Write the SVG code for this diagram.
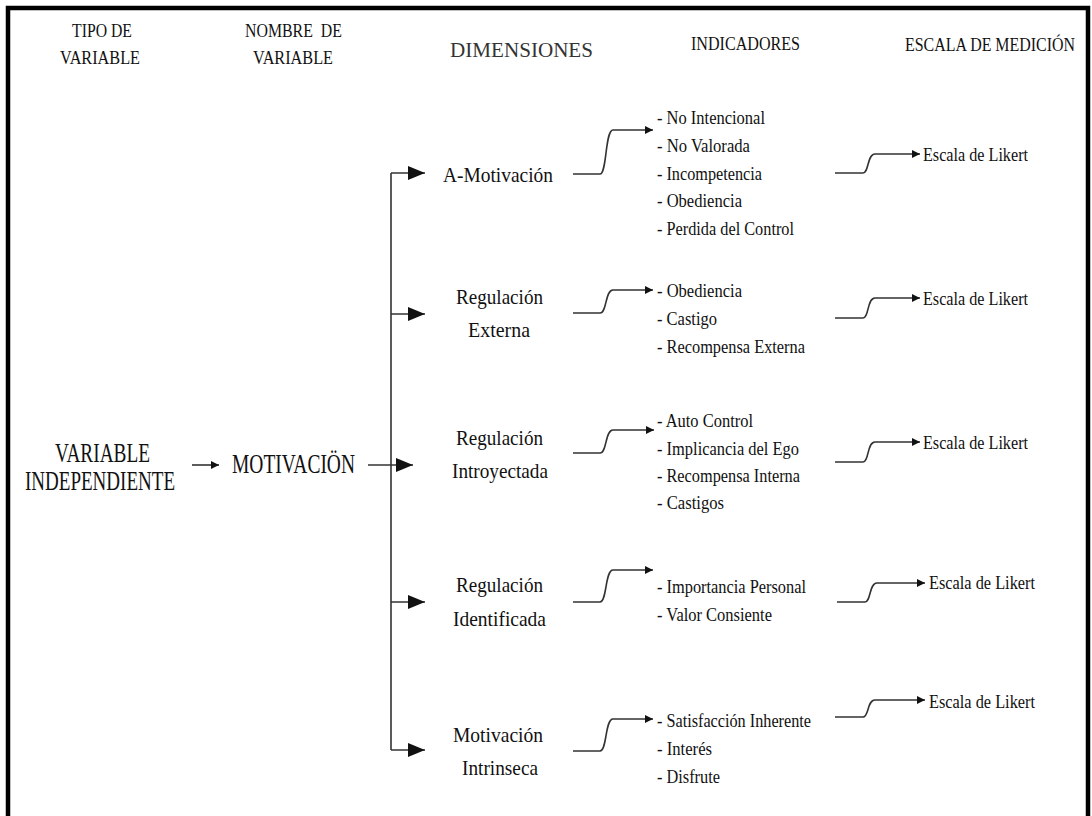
<svg xmlns="http://www.w3.org/2000/svg" width="1092" height="816" viewBox="0 0 1092 816">
<defs>
<style>
text{font-family:"Liberation Serif","DejaVu Serif",serif;fill:#111;}
.hdr{font-size:19px;}
.big{font-size:28px;}
.dim{font-size:22px;}
.ind{font-size:19px;}
.conn{fill:none;stroke:#333;stroke-width:1.6;}
</style>
<marker id="sm" markerUnits="userSpaceOnUse" markerWidth="9" markerHeight="9" refX="8" refY="4" orient="auto"><path d="M0,0 L8,4 L0,8 z" fill="#111"/></marker>
<marker id="lg" markerUnits="userSpaceOnUse" markerWidth="18" markerHeight="15" refX="17" refY="7" orient="auto"><path d="M0,0 L17,7 L0,14 z" fill="#111"/></marker>
</defs>
<rect width="1092" height="816" fill="#fff"/>
<path d="M8,816 V8 H1088 V816" fill="none" stroke="#000" stroke-width="4.5"/>

<g id="headers">
<text class="hdr" x="72" y="37" textLength="60" lengthAdjust="spacingAndGlyphs">TIPO DE</text>
<text class="hdr" x="60" y="64" textLength="80" lengthAdjust="spacingAndGlyphs">VARIABLE</text>
<text class="hdr" x="245" y="37" textLength="97" lengthAdjust="spacingAndGlyphs" xml:space="preserve">NOMBRE  DE</text>
<text class="hdr" x="253" y="64" textLength="80" lengthAdjust="spacingAndGlyphs">VARIABLE</text>
<text x="450" y="57" style="font-size:20px;fill:#333" textLength="143" lengthAdjust="spacingAndGlyphs">DIMENSIONES</text>
<text class="hdr" x="691" y="50" textLength="109" lengthAdjust="spacingAndGlyphs">INDICADORES</text>
<text class="hdr" transform="translate(905,51) scale(0.84,1)">ESCALA DE MEDICIÓN</text>
</g>

<g id="tipo">
<text class="big" x="55" y="462" textLength="95" lengthAdjust="spacingAndGlyphs">VARIABLE</text>
<text class="big" x="25" y="490" textLength="150" lengthAdjust="spacingAndGlyphs">INDEPENDIENTE</text>
</g>
<g id="nombre">
<text class="big" x="232" y="473" textLength="123" lengthAdjust="spacingAndGlyphs">MOTIVACIÖN</text>
</g>

<g id="dim-amotivacion"><text class="dim" x="443" y="182" textLength="110" lengthAdjust="spacingAndGlyphs">A-Motivación</text></g>
<g id="dim-externa">
<text class="dim" x="456" y="304" textLength="87" lengthAdjust="spacingAndGlyphs">Regulación</text>
<text class="dim" x="468" y="337" textLength="62" lengthAdjust="spacingAndGlyphs">Externa</text>
</g>
<g id="dim-introyectada">
<text class="dim" x="456" y="445" textLength="87" lengthAdjust="spacingAndGlyphs">Regulación</text>
<text class="dim" x="452" y="478" textLength="96" lengthAdjust="spacingAndGlyphs">Introyectada</text>
</g>
<g id="dim-identificada">
<text class="dim" x="456" y="592" textLength="87" lengthAdjust="spacingAndGlyphs">Regulación</text>
<text class="dim" x="453" y="626" textLength="93" lengthAdjust="spacingAndGlyphs">Identificada</text>
</g>
<g id="dim-intrinseca">
<text class="dim" x="453" y="742" textLength="90" lengthAdjust="spacingAndGlyphs">Motivación</text>
<text class="dim" x="462" y="775" textLength="76" lengthAdjust="spacingAndGlyphs">Intrinseca</text>
</g>

<g id="ind-amotivacion">
<text class="ind" x="657" y="124" textLength="108" lengthAdjust="spacingAndGlyphs">- No Intencional</text>
<text class="ind" x="657" y="152" textLength="93" lengthAdjust="spacingAndGlyphs">- No Valorada</text>
<text class="ind" x="657" y="180" textLength="105" lengthAdjust="spacingAndGlyphs">- Incompetencia</text>
<text class="ind" x="657" y="207" textLength="85" lengthAdjust="spacingAndGlyphs">- Obediencia</text>
<text class="ind" x="657" y="235" textLength="137" lengthAdjust="spacingAndGlyphs">- Perdida del Control</text>
</g>
<g id="ind-externa">
<text class="ind" x="657" y="297" textLength="85" lengthAdjust="spacingAndGlyphs">- Obediencia</text>
<text class="ind" x="657" y="325" textLength="60" lengthAdjust="spacingAndGlyphs">- Castigo</text>
<text class="ind" x="657" y="353" textLength="148" lengthAdjust="spacingAndGlyphs">- Recompensa Externa</text>
</g>
<g id="ind-introyectada">
<text class="ind" x="657" y="427" textLength="96" lengthAdjust="spacingAndGlyphs">- Auto Control</text>
<text class="ind" x="657" y="455" textLength="142" lengthAdjust="spacingAndGlyphs">- Implicancia del Ego</text>
<text class="ind" x="657" y="482" textLength="143" lengthAdjust="spacingAndGlyphs">- Recompensa Interna</text>
<text class="ind" x="657" y="509" textLength="67" lengthAdjust="spacingAndGlyphs">- Castigos</text>
</g>
<g id="ind-identificada">
<text class="ind" x="657" y="593" textLength="149" lengthAdjust="spacingAndGlyphs">- Importancia Personal</text>
<text class="ind" x="657" y="621" textLength="115" lengthAdjust="spacingAndGlyphs">- Valor Consiente</text>
</g>
<g id="ind-intrinseca">
<text class="ind" x="657" y="727" textLength="154" lengthAdjust="spacingAndGlyphs">- Satisfacción Inherente</text>
<text class="ind" x="657" y="755" textLength="55" lengthAdjust="spacingAndGlyphs">- Interés</text>
<text class="ind" x="657" y="783" textLength="63" lengthAdjust="spacingAndGlyphs">- Disfrute</text>
</g>

<g id="escala-1"><text class="ind" x="923" y="161" textLength="105" lengthAdjust="spacingAndGlyphs">Escala de Likert</text></g>
<g id="escala-2"><text class="ind" x="923" y="305" textLength="105" lengthAdjust="spacingAndGlyphs">Escala de Likert</text></g>
<g id="escala-3"><text class="ind" x="923" y="449" textLength="105" lengthAdjust="spacingAndGlyphs">Escala de Likert</text></g>
<g id="escala-4"><text class="ind" x="929" y="589" textLength="106" lengthAdjust="spacingAndGlyphs">Escala de Likert</text></g>
<g id="escala-5"><text class="ind" x="929" y="708" textLength="106" lengthAdjust="spacingAndGlyphs">Escala de Likert</text></g>

<g id="connectors">
<path class="conn" d="M192,465 H219" marker-end="url(#sm)"/>
<path class="conn" d="M368,465 H413" marker-end="url(#lg)"/>
<path class="conn" d="M391,173 V750"/>
<path class="conn" d="M391,173 H425" marker-end="url(#lg)"/>
<path class="conn" d="M391,314 H425" marker-end="url(#lg)"/>
<path class="conn" d="M391,602 H425" marker-end="url(#lg)"/>
<path class="conn" d="M391,750 H425" marker-end="url(#lg)"/>

<path class="conn" d="M573,174 H600 C607,174 605,130 613,130 H653" marker-end="url(#sm)"/>
<path class="conn" d="M573,313 H600 C607,313 605,290 613,290 H653" marker-end="url(#sm)"/>
<path class="conn" d="M573,453 H600 C607,453 605,430 613,430 H654" marker-end="url(#sm)"/>
<path class="conn" d="M573,602 H600 C607,602 605,570 613,570 H653" marker-end="url(#sm)"/>
<path class="conn" d="M573,751 H600 C607,751 605,719 613,719 H653" marker-end="url(#sm)"/>

<path class="conn" d="M835,173 H863 C869,173 867,154 875,154 H920" marker-end="url(#sm)"/>
<path class="conn" d="M835,318 H863 C869,318 867,298 875,298 H920" marker-end="url(#sm)"/>
<path class="conn" d="M835,462 H863 C869,462 867,442 875,442 H920" marker-end="url(#sm)"/>
<path class="conn" d="M837,602 H865 C871,602 869,583 877,583 H925" marker-end="url(#sm)"/>
<path class="conn" d="M835,717 H863 C869,717 867,700 875,700 H925" marker-end="url(#sm)"/>
</g>
</svg>
